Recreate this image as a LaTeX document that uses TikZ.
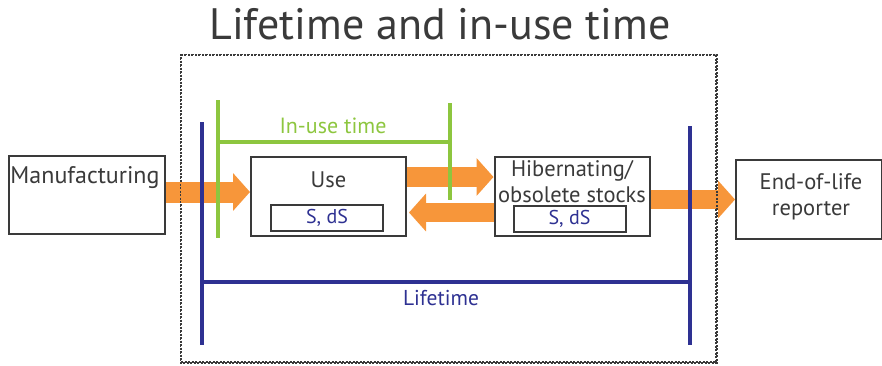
\documentclass[tikz,border=0pt]{standalone}
\usepackage{fontspec}
\setmainfont{PT Sans}
\usetikzlibrary{arrows.meta}
\definecolor{boxgray}{HTML}{3A3A3A}
\definecolor{flow}{HTML}{F7963A}
\definecolor{inuse}{HTML}{8DC63F}
\definecolor{life}{HTML}{2E3192}
\tikzset{
  stockbox/.style={draw=boxgray, line width=2pt, fill=white, minimum width=155pt, minimum height=79pt, inner sep=0pt},
  subbox/.style={draw=boxgray, line width=2pt, fill=white, minimum width=112pt, minimum height=26pt, inner sep=0pt, text=life, font=\fontsize{20}{22}\selectfont},
  lbl/.style={text=boxgray, inner sep=0pt, align=center, font=\fontsize{22.5}{26}\selectfont},
  flowarrow/.style={draw=flow, -{Triangle[length=17pt,width=37pt]}},
  span/.style={line width=4pt},
}
\begin{document}
\begin{tikzpicture}[x=1pt,y=-1pt]
\useasboundingbox (0,0) rectangle (882,365);

% title and system boundary
\node[text=boxgray, inner sep=0pt, font=\fontsize{44}{48}\selectfont] (title) at (440,24) {Lifetime and in-use time};
\node[draw=boxgray, line width=1.5pt, dash pattern=on 2pt off 1.5pt, minimum width=535pt, minimum height=307pt, inner sep=0pt] (sys) at (448.5,208.5) {};

% stocks
\node[stockbox, minimum width=156pt, minimum height=78pt] (mfg) at (87,194.5) {};
\node[lbl, font=\fontsize{24}{28}\selectfont] (mfgl) at (85,178) {Manufacturing};
\node[stockbox] (use) at (328.5,196.5) {};
\node[lbl] (usel) at (328.5,180) {Use};
\node[subbox] (uses) at (327,218) {S, dS};
\node[stockbox] (hib) at (572,196.5) {};
\node[lbl] (hibl) at (572,181.5) {Hibernating/\\obsolete stocks};
\node[subbox] (hibs) at (569.5,218.5) {S, dS};
\node[stockbox, minimum width=146pt, minimum height=79pt] (eol) at (809,199.5) {};
\node[lbl] (eoll) at (811,197) {End-of-life\\reporter};

% material flows
\draw[flowarrow, line width=21pt] (mfg.east |- 0,192) -- (use.west |- 0,192);
\draw[flowarrow, line width=20pt] (use.east |- 0,177) -- (hib.west |- 0,177);
\draw[flowarrow, line width=19pt] (hib.west |- 0,212.5) -- ([xshift=2pt]use.east |- 0,212.5);
\draw[flowarrow, line width=19pt] (hib.east |- 0,199.5) -- (eol.west |- 0,199.5);

% boundary redrawn over the flows
\draw[boxgray, line width=1.5pt, dash pattern=on 2pt off 1.5pt] (sys.north west) rectangle (sys.south east);

% in-use time span
\coordinate (g1) at (218,100);
\coordinate (g2) at (218,238);
\coordinate (g3) at (450,103);
\coordinate (g4) at (450,200);
\draw[inuse, span] (g1) -- (g2);
\draw[inuse, span] (g3) -- (g4);
\draw[inuse, span] (g1 |- 0,142) -- (g3 |- 0,142);
\node[text=inuse, inner sep=0pt, font=\fontsize{22}{25}\selectfont] (inusel) at (333,126) {In-use time};

% lifetime span
\coordinate (b1) at (202,122);
\coordinate (b2) at (202,345);
\coordinate (b3) at (690,126);
\coordinate (b4) at (690,345);
\draw[life, span] (b1) -- (b2);
\draw[life, span] (b3) -- (b4);
\draw[life, span] (b1 |- 0,282) -- (b3 |- 0,282);
\node[text=life, inner sep=0pt, font=\fontsize{21.5}{24}\selectfont] (lifel) at (441,298) {Lifetime};
\end{tikzpicture}
\end{document}
